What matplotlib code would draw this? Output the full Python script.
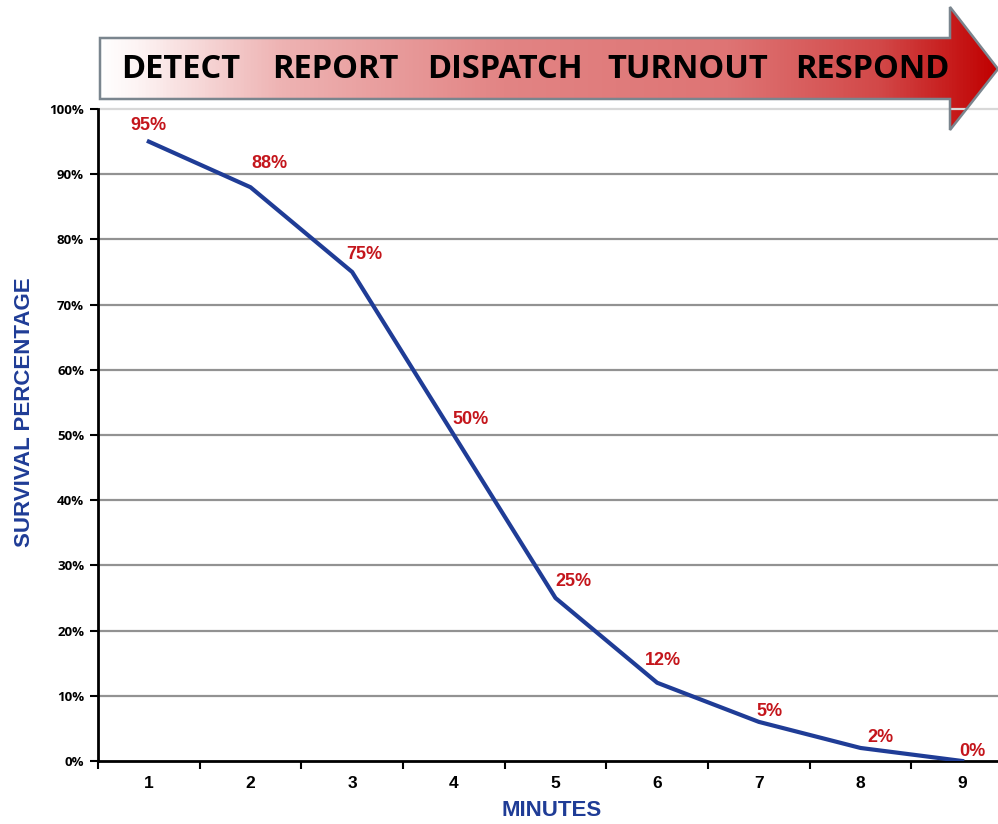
import matplotlib
matplotlib.use('Agg')
import matplotlib.pyplot as plt
import numpy as np
from matplotlib.colors import LinearSegmentedColormap
from matplotlib.patches import Polygon

# data
minutes = [1, 2, 3, 4, 5, 6, 7, 8, 9]
survival = [95, 88, 75, 50, 25, 12, 6, 2, 0]
survival_labels = ['95%', '88%', '75%', '50%', '25%', '12%', '5%', '2%', '0%']
stages = ['DETECT', 'REPORT', 'DISPATCH', 'TURNOUT', 'RESPOND']
y_ticks = [0, 10, 20, 30, 40, 50, 60, 70, 80, 90, 100]

# label offsets in pixels (dx, dy)
label_offsets = [(0, 16), (19, 24), (12, 17), (17, 16), (18, 16), (6, 22), (11, 10), (20, 10), (10, 9)]
stage_x = [181, 335, 505, 688, 872]

W, H = 998, 824
fig = plt.figure(figsize=(W / 100, H / 100), dpi=100)

def fx(px):
    return px / W

def fy(py):
    return 1 - py / H

# main axes
ax = fig.add_axes([fx(98), fy(761), (1013 - 98) / W, (761 - 109) / H])
ax.set_xlim(0.5, 9.5)
ax.set_ylim(0, 100)

for v in y_ticks[1:]:
    ax.axhline(v, color='#929292' if v < 100 else '#d8d8d8', lw=1.6, zorder=1, clip_on=False)

ax.plot(minutes, survival, color='#1f3c96', lw=3, zorder=3, solid_joinstyle='round')

for x, y, lab, (dx, dy) in zip(minutes, survival, survival_labels, label_offsets):
    ax.annotate(lab, (x, y), xytext=(dx * 0.72, dy * 0.72), textcoords='offset points',
                ha='center', va='center', color='#c4161c', fontsize=13,
                fontweight='bold', family='Liberation Sans', zorder=4)

for s in ['top', 'right']:
    ax.spines[s].set_visible(False)
ax.spines['left'].set_linewidth(2)
ax.spines['bottom'].set_linewidth(2)

ax.set_xticks(minutes)
ax.set_xticklabels([str(m) for m in minutes], fontsize=12.5, fontweight='bold', family='Liberation Sans')
ax.set_xticks(np.arange(0.5, 9.6, 1), minor=True)
ax.tick_params(axis='x', which='major', length=0, pad=11)
ax.tick_params(axis='x', which='minor', length=6, width=1.5, direction='out')
ax.set_yticks(y_ticks)
ax.set_yticklabels([f'{v}%' for v in y_ticks], fontsize=9.5, fontweight='bold', family='Open Sans')
ax.tick_params(axis='y', length=6, width=1.5, direction='out', pad=4)

fig.text(fx(552), fy(810), 'MINUTES', ha='center', va='center', color='#1f3c96',
         fontsize=16, fontweight='bold', family='Liberation Sans')
fig.text(fx(25), fy(412), 'SURVIVAL PERCENTAGE', ha='center', va='center', rotation=90,
         color='#1f3c96', fontsize=16, fontweight='bold', family='Liberation Sans')

# process arrow with gradient
arrow_px = [(100, 38), (950, 38), (950, 7), (998, 69), (950, 130), (950, 99), (100, 99)]
arrow_pts = [(fx(x), fy(y)) for x, y in arrow_px]
poly = Polygon(arrow_pts, closed=True, transform=fig.transFigure, facecolor='none',
               edgecolor='#7a858e', lw=1.8, zorder=5)
fig.patches.append(poly)

cmap = LinearSegmentedColormap.from_list('arrow', [
    (0.0, '#ffffff'), (0.04, '#fdf4f4'), (0.2, '#eeb3b3'), (0.45, '#e28484'),
    (0.7, '#de7474'), (0.87, '#d24848'), (1.0, '#c00000')])
grad = np.linspace(0, 1, 512).reshape(1, -1)
bg = fig.add_axes([0, 0, 1, 1], zorder=-1)
bg.set_xlim(0, 1)
bg.set_ylim(0, 1)
bg.axis('off')
img = bg.imshow(grad, cmap=cmap, aspect='auto', extent=[fx(100), fx(998), fy(130), fy(7)],
                zorder=1)
clip = Polygon(arrow_pts, closed=True, transform=bg.transData)
img.set_clip_path(clip)
ax.set_zorder(2)
ax.patch.set_alpha(0)

for name, x in zip(stages, stage_x):
    fig.text(fx(x), fy(69), name, ha='center', va='center', fontsize=23.5,
             fontweight='bold', family='Open Sans', color='black', zorder=6)

fig.savefig('out.png', dpi=100)
